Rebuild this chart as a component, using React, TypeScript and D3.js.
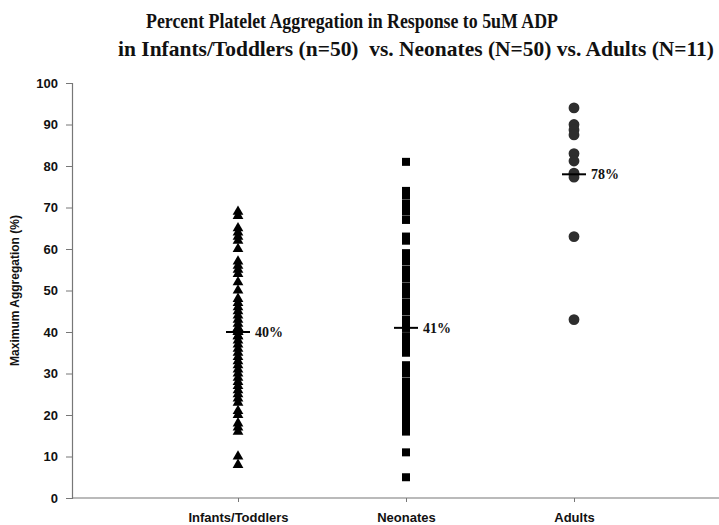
import React, { useRef, useEffect } from 'react'
import * as d3 from 'd3'

const categories = ['Infants/Toddlers', 'Neonates', 'Adults']

const infantValues = [
  69, 68, 65, 64, 63, 62, 60, 57, 56, 55, 54, 52, 50, 48, 47, 46, 45, 44, 43, 42, 41, 41, 40, 40, 40,
  39, 39, 38, 37, 36, 35, 34, 33, 32, 31, 30, 29, 28, 27, 26, 25, 24, 23, 21, 20, 18, 17, 16, 10, 8,
]

const neonateValues = [
  81, 74, 73, 71, 70, 69, 67, 63, 62, 59, 58, 57, 55, 54, 53, 51, 50, 49, 47, 46, 45, 43, 42, 41, 41,
  39, 38, 37, 36, 35, 32, 31, 30, 28, 27, 26, 25, 24, 24, 23, 22, 21, 20, 19, 19, 18, 17, 16, 11, 5,
]

const adultValues = [94, 90, 88.7, 87.5, 83, 81.2, 78.3, 78, 77.3, 63, 43]

const medians = [40, 41, 78]
const medianLabels = ['40%', '41%', '78%']

const yTicks = [0, 10, 20, 30, 40, 50, 60, 70, 80, 90, 100]

const titleLines = [
  'Percent Platelet Aggregation in Response to 5uM ADP',
  'in Infants/Toddlers (n=50)  vs. Neonates (N=50) vs. Adults (N=11)',
]

export default function App() {
  const ref = useRef<SVGSVGElement>(null)

  useEffect(() => {
    document.body.style.margin = '0'
    const svg = d3.select(ref.current)
    svg.selectAll('*').remove()

    const width = 719, height = 525
    const margin = { left: 72, bottom: 498, top: 83 }

    const x = d3.scalePoint().domain(categories).range([238, 574])
    const y = d3.scaleLinear().domain([0, 100]).range([margin.bottom, margin.top])

    svg.append('rect').attr('width', width).attr('height', height).attr('fill', '#fff')

    // title, fitted to the width of the original lines
    const titleBox = [{ x: 146, w: 412, y: 28 }, { x: 118, w: 596, y: 56 }]
    svg.append('g').selectAll('text').data(titleLines).join('text')
      .attr('x', (d, i) => titleBox[i].x)
      .attr('y', (d, i) => titleBox[i].y)
      .attr('textLength', (d, i) => titleBox[i].w)
      .attr('lengthAdjust', 'spacingAndGlyphs')
      .attr('font-family', '"Liberation Serif", "Times New Roman", serif')
      .attr('font-weight', 'bold')
      .attr('font-size', 21)
      .attr('fill', '#111')
      .style('white-space', 'pre')
      .text(d => d)

    // y axis
    const yAxis = svg.append('g').attr('transform', `translate(${margin.left},0)`)
      .call(d3.axisLeft(y).tickValues(yTicks).tickSize(6).tickPadding(8))
    yAxis.select('.domain').attr('stroke', '#777').attr('stroke-width', 1.2)
    yAxis.selectAll('.tick line').attr('stroke', '#777')
    yAxis.selectAll('.tick text')
      .attr('font-family', '"Liberation Sans", Arial, sans-serif')
      .attr('font-weight', 'bold').attr('font-size', 13).attr('fill', '#111')

    svg.append('text')
      .attr('transform', `translate(19,${(margin.top + margin.bottom) / 2}) rotate(-90)`)
      .attr('text-anchor', 'middle')
      .attr('font-family', '"Liberation Sans", Arial, sans-serif')
      .attr('font-weight', 'bold').attr('font-size', 12).attr('fill', '#111')
      .text('Maximum Aggregation (%)')

    // x axis
    svg.append('line')
      .attr('x1', margin.left).attr('x2', width).attr('y1', margin.bottom).attr('y2', margin.bottom)
      .attr('stroke', '#777').attr('stroke-width', 1.2)
    const xAxis = svg.append('g').attr('transform', `translate(0,${margin.bottom})`)
      .call(d3.axisBottom(x).tickSize(4).tickPadding(11))
    xAxis.select('.domain').remove()
    xAxis.selectAll('.tick line').attr('stroke', '#777')
    xAxis.selectAll('.tick text')
      .attr('font-family', '"Liberation Sans", Arial, sans-serif')
      .attr('font-weight', 'bold').attr('font-size', 13).attr('fill', '#111')

    // points
    const groups = [
      { cat: categories[0], values: infantValues, symbol: d3.symbolTriangle, size: 50, fill: '#000' },
      { cat: categories[1], values: neonateValues, symbol: d3.symbolSquare, size: 64, fill: '#000' },
      { cat: categories[2], values: adultValues, symbol: d3.symbolCircle, size: 92, fill: '#2e2e2e' },
    ]
    groups.forEach(g => {
      const sym = d3.symbol().type(g.symbol).size(g.size)
      svg.append('g').selectAll('path').data(g.values).join('path')
        .attr('transform', d => `translate(${x(g.cat)},${y(d)})`)
        .attr('d', sym)
        .attr('fill', g.fill)
    })

    // median lines and labels
    const med = svg.append('g')
    med.selectAll('line').data(medians).join('line')
      .attr('x1', (d, i) => (x(categories[i]) as number) - 12)
      .attr('x2', (d, i) => (x(categories[i]) as number) + 12)
      .attr('y1', d => y(d)).attr('y2', d => y(d))
      .attr('stroke', '#000').attr('stroke-width', 2)
    med.selectAll('text').data(medians).join('text')
      .attr('x', (d, i) => (x(categories[i]) as number) + 17)
      .attr('y', d => y(d) + 5)
      .attr('font-family', '"Liberation Serif", "Times New Roman", serif')
      .attr('font-weight', 'bold').attr('font-size', 14).attr('fill', '#111')
      .text((d, i) => medianLabels[i])
  }, [])

  return <svg ref={ref} width={719} height={525} style={{ display: 'block' }} />
}
